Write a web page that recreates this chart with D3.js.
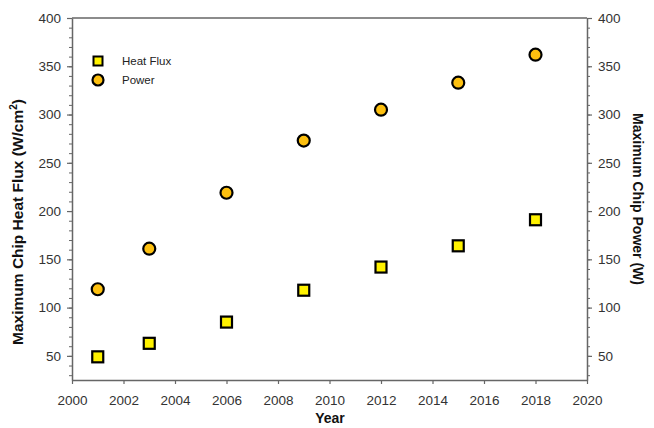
<!DOCTYPE html>
<html><head><meta charset="utf-8">
<script src="https://cdn.jsdelivr.net/npm/d3@7/dist/d3.min.js"></script>
<style>body{margin:0;background:#fff}svg{display:block}</style>
</head><body>
<svg id="c" width="654" height="428"></svg>
<script>
const years = [2001, 2003, 2006, 2009, 2012, 2015, 2018];
const heatFlux = [49, 63, 85, 118, 142, 164, 191];
const power = [119, 161, 219, 273, 305, 333, 362];
const xTicks = [2000, 2002, 2004, 2006, 2008, 2010, 2012, 2014, 2016, 2018, 2020];
const yTicks = [50, 100, 150, 200, 250, 300, 350, 400];
const yMinor = d3.range(30, 401, 10);

const svg = d3.select("#c");
const L = 72, R = 587, T = 18, B = 380;
const x = d3.scaleLinear().domain([2000, 2020]).range([L, R]);
const y = d3.scaleLinear().domain([25, 400]).range([B, T]);
const axisCol = "#666", font = "Arial, 'Liberation Sans', sans-serif";

// frame
svg.append("line").attr("x1", L).attr("x2", R).attr("y1", T).attr("y2", T).attr("stroke", axisCol).attr("stroke-width", 1.5);

function styleAxis(g) {
  g.select(".domain").attr("stroke", axisCol).attr("stroke-width", 1.5);
  g.selectAll(".tick line").attr("stroke", axisCol).attr("stroke-width", 1.2);
  g.selectAll(".tick text").attr("fill", "#333").style("font-family", font).style("font-size", "13.5px");
}

// minor ticks
const gl = svg.append("g").attr("transform", `translate(${L},0)`);
gl.call(d3.axisLeft(y).tickValues(yMinor).tickSize(3).tickFormat("").tickSizeOuter(0));
gl.select(".domain").remove();
gl.selectAll("line").attr("stroke", axisCol);
const gr = svg.append("g").attr("transform", `translate(${R},0)`);
gr.call(d3.axisRight(y).tickValues(yMinor).tickSize(3).tickFormat("").tickSizeOuter(0));
gr.select(".domain").remove();
gr.selectAll("line").attr("stroke", axisCol);

const ya = svg.append("g").attr("transform", `translate(${L},0)`)
  .call(d3.axisLeft(y).tickValues(yTicks).tickSize(5).tickSizeOuter(0).tickPadding(6));
styleAxis(ya);
const yb = svg.append("g").attr("transform", `translate(${R},0)`)
  .call(d3.axisRight(y).tickValues(yTicks).tickSize(5).tickSizeOuter(0).tickPadding(6));
styleAxis(yb);
const xa = svg.append("g").attr("transform", `translate(0,${B})`)
  .call(d3.axisBottom(x).tickValues(xTicks).tickFormat(d3.format("d")).tickSize(4).tickSizeOuter(0).tickPadding(11));
styleAxis(xa);

// titles
svg.append("text").attr("x", 330).attr("y", 423).attr("text-anchor", "middle")
  .style("font-family", font).style("font-size", "14px").style("font-weight", "bold").attr("fill", "#111").text("Year");
const lt = svg.append("text").attr("transform", `translate(23,222) rotate(-90)`).attr("text-anchor", "middle")
  .style("font-family", font).style("font-size", "15.5px").style("font-weight", "bold").attr("fill", "#111");
lt.append("tspan").text("Maximum Chip Heat Flux (W/cm");
lt.append("tspan").attr("dy", -6).style("font-size", "10px").text("2");
lt.append("tspan").attr("dy", 6).text(")");
svg.append("text").attr("transform", `translate(633,199) rotate(90)`).attr("text-anchor", "middle")
  .style("font-family", font).style("font-size", "14px").style("font-weight", "bold").attr("fill", "#111")
  .text("Maximum Chip Power (W)");

// data
const sq = 11;
svg.append("g").selectAll("rect").data(years).join("rect")
  .attr("x", (d) => x(d) - sq / 2).attr("y", (d, i) => y(heatFlux[i]) - sq / 2)
  .attr("width", sq).attr("height", sq).attr("fill", "#FFF200").attr("stroke", "#000").attr("stroke-width", 2.2);
svg.append("g").selectAll("circle").data(years).join("circle")
  .attr("cx", (d) => x(d)).attr("cy", (d, i) => y(power[i])).attr("r", 6)
  .attr("fill", "#FDC010").attr("stroke", "#000").attr("stroke-width", 2.2);

// legend
const lg = svg.append("g");
lg.append("rect").attr("x", 98 - 4.5).attr("y", 61 - 4.5).attr("width", 9).attr("height", 9)
  .attr("fill", "#FFF200").attr("stroke", "#000").attr("stroke-width", 2);
lg.append("circle").attr("cx", 98).attr("cy", 80).attr("r", 5.5).attr("fill", "#FDC010").attr("stroke", "#000").attr("stroke-width", 2.2);
lg.append("text").attr("x", 122).attr("y", 65).style("font-family", font).style("font-size", "11.5px").attr("fill", "#222").text("Heat Flux");
lg.append("text").attr("x", 122).attr("y", 84).style("font-family", font).style("font-size", "11.5px").attr("fill", "#222").text("Power");
</script>
</body></html>
